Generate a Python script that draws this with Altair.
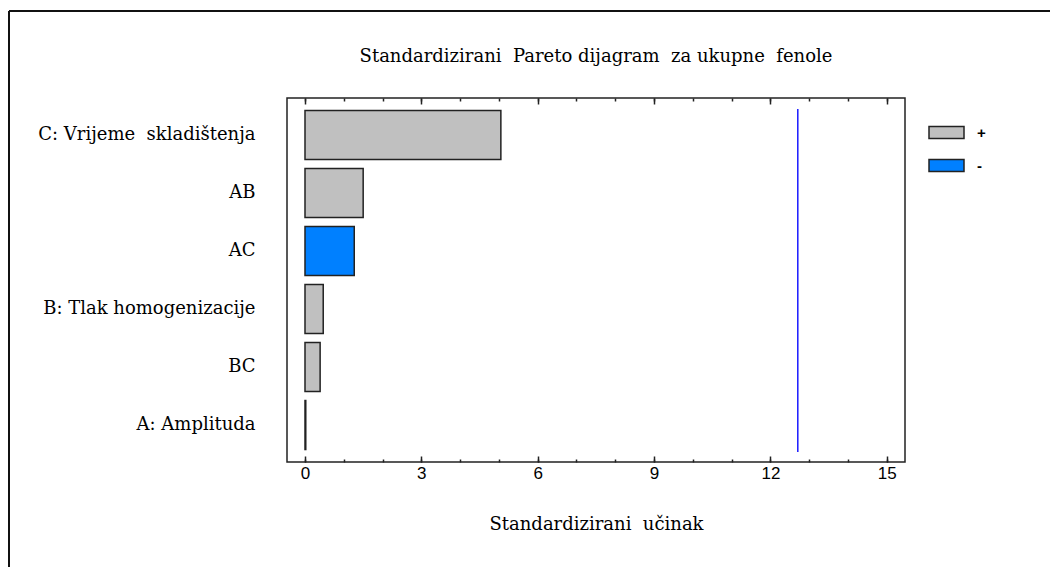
import altair as alt
import pandas as pd

# ---- data ----
terms = ["C: Vrijeme\u00a0 skladištenja", "AB", "AC", "B: Tlak homogenizacije", "BC", "A: Amplituda"]
effects = [5.05, 1.50, 1.27, 0.47, 0.39, 0.02]
signs = ["+", "+", "-", "+", "+", "+"]
critical_value = [12.706]
major_ticks = [0, 3, 6, 9, 12, 15]
minor_ticks = [0, 1, 2, 3, 4, 5, 6, 7, 8, 9, 10, 11, 12, 13, 14, 15]
sign_domain = ["+", "-"]
sign_colors = ["#c0c0c0", "#0080ff"]

title_text = "Standardizirani\u00a0 Pareto dijagram\u00a0 za ukupne\u00a0 fenole"
x_title = "Standardizirani\u00a0 učinak"

df = pd.DataFrame({"term": terms, "effect": effects, "sign": signs})
crit = pd.DataFrame({"crit": critical_value})

W, H = 618, 364
SERIF = "DejaVu Serif"
SANS = "Liberation Sans"

xscale = alt.Scale(domain=[-0.464, 15.47], nice=False, zero=False)


def tick_axis(orient, values, size):
    return alt.Axis(orient=orient, offset=-H, values=values, tickSize=size, tickWidth=1.5,
                    tickColor="#222222", labels=False, domain=False, grid=False, title=None)


bars = alt.Chart(df).mark_bar(stroke="#222222", strokeWidth=1.5, opacity=1).encode(
    x=alt.X("effect:Q", scale=xscale,
            axis=alt.Axis(orient="bottom", values=major_ticks, tickSize=0, domain=False, grid=False,
                          labelFont=SANS, labelFontSize=17, labelColor="#000000", labelPadding=3,
                          title=x_title, titleFont=SERIF, titleFontSize=18, titleFontWeight="normal",
                          titleColor="#000000", titlePadding=34)),
    x2=alt.datum(0),
    y=alt.Y("term:N", sort=terms,
            scale=alt.Scale(paddingInner=0.155, paddingOuter=0.215),
            axis=alt.Axis(ticks=False, domain=False, grid=False, labelFont=SERIF, labelFontSize=18,
                          labelColor="#000000", labelPadding=32, labelLimit=400, title=None)),
    color=alt.Color("sign:N",
                    scale=alt.Scale(domain=sign_domain, range=sign_colors),
                    legend=alt.Legend(orient="none", legendX=641, legendY=16, title=None,
                                      symbolType="M-1,-0.34H1V0.34H-1Z", symbolSize=1225,
                                      symbolStrokeColor="#222222", symbolStrokeWidth=1.5,
                                      symbolOpacity=1, labelFont=SANS, labelFontSize=15,
                                      labelFontWeight="bold", labelOffset=12, rowPadding=5,
                                      padding=0)),
)

rule = alt.Chart(crit).mark_rule(color="#1a1aff", strokeWidth=1.5).encode(
    x=alt.X("crit:Q", scale=xscale, axis=tick_axis("top", major_ticks, 6)),
    y=alt.value(11),
    y2=alt.value(354),
)

ghost = alt.Chart(df).mark_point(opacity=0)
t1 = ghost.encode(x=alt.X("effect:Q", scale=xscale, axis=tick_axis("top", minor_ticks, 3)))
t2 = ghost.encode(x=alt.X("effect:Q", scale=xscale, axis=tick_axis("bottom", major_ticks, 6)))
t3 = ghost.encode(x=alt.X("effect:Q", scale=xscale, axis=tick_axis("bottom", minor_ticks, 3)))

border_top = alt.Chart(crit).mark_rule(color="#111111", strokeWidth=2).encode(
    x=alt.value(-278), x2=alt.value(W + 160), y=alt.value(-87))
border_left = alt.Chart(crit).mark_rule(color="#111111", strokeWidth=2).encode(
    x=alt.value(-278), y=alt.value(-87), y2=alt.value(H + 120))

chart = alt.layer(bars, rule, t1, t2, t3, border_top, border_left).resolve_axis(
    x="independent"
).properties(
    width=W, height=H,
    title=alt.TitleParams(title_text, font=SERIF, fontSize=18, fontWeight="normal",
                          color="#000000", anchor="middle", frame="group", offset=-56),
    autosize=alt.AutoSizeParams(type="none"),
    padding={"left": 279, "top": 90, "right": 145, "bottom": 105},
).configure(
    background="#ffffff",
    view=alt.ViewConfig(stroke="#222222", strokeWidth=1.5),
)

chart.save("out.html", embed_options={"renderer": "svg", "actions": False})
